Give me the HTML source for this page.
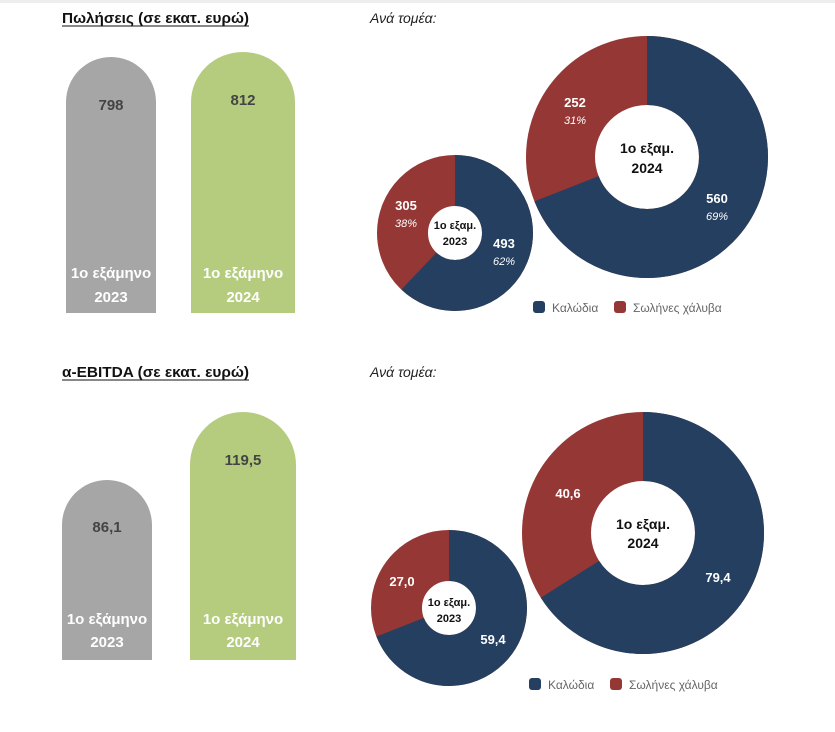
<!DOCTYPE html>
<html><head><meta charset="utf-8"><style>
body{margin:0;background:#fff;width:835px;height:727px;overflow:hidden;font-family:"Liberation Sans","DejaVu Sans",sans-serif}
</style></head><body>
<svg width="835" height="727" xmlns="http://www.w3.org/2000/svg" font-family="Liberation Sans, DejaVu Sans, sans-serif">
<rect x="0" y="0" width="835" height="3" fill="#eee"/>
<text x="62" y="23" font-size="14.5" font-weight="bold" fill="#111" textLength="187" lengthAdjust="spacingAndGlyphs">Πωλήσεις (σε εκατ. ευρώ)</text>
<line x1="62" y1="26" x2="249" y2="26" stroke="#111" stroke-width="1"/>
<text x="370" y="23" font-size="14" font-style="italic" fill="#222">Ανά τομέα:</text>
<text x="62" y="377" font-size="14.5" font-weight="bold" fill="#111" textLength="187" lengthAdjust="spacingAndGlyphs">α-EBITDA (σε εκατ. ευρώ)</text>
<line x1="62" y1="380" x2="249" y2="380" stroke="#111" stroke-width="1"/>
<text x="370" y="377" font-size="14" font-style="italic" fill="#222">Ανά τομέα:</text>

<path d="M66 313 V102 A45 45 0 0 1 156 102 V313 Z" fill="#a6a6a6"/>
<path d="M191 313 V102 A52 50 0 0 1 295 102 V313 Z" fill="#b5cc7f"/>
<text x="111" y="110" font-size="15" font-weight="bold" fill="#444" text-anchor="middle">798</text>
<text x="243" y="105" font-size="15" font-weight="bold" fill="#444" text-anchor="middle">812</text>
<g font-size="15" font-weight="bold" fill="#fff" text-anchor="middle">
<text x="111" y="278">1ο εξάμηνο</text><text x="111" y="302">2023</text>
<text x="243" y="278">1ο εξάμηνο</text><text x="243" y="302">2024</text>
</g>
<path d="M62 660 V525 A45 45 0 0 1 152 525 V660 Z" fill="#a6a6a6"/>
<path d="M190 660 V465 A53 53 0 0 1 296 465 V660 Z" fill="#b5cc7f"/>
<text x="107" y="532" font-size="15" font-weight="bold" fill="#444" text-anchor="middle">86,1</text>
<text x="243" y="465" font-size="15" font-weight="bold" fill="#444" text-anchor="middle">119,5</text>
<g font-size="15" font-weight="bold" fill="#fff" text-anchor="middle">
<text x="107" y="624">1ο εξάμηνο</text><text x="107" y="647">2023</text>
<text x="243" y="624">1ο εξάμηνο</text><text x="243" y="647">2024</text>
</g>

<g transform="translate(455,233) rotate(-90)">
<circle r="52.5" fill="none" stroke="#953735" stroke-width="51"/>
<circle r="52.5" fill="none" stroke="#243f60" stroke-width="51" stroke-dasharray="204.5 400"/>
</g>
<g transform="translate(647,157) rotate(-90)">
<circle r="86.5" fill="none" stroke="#953735" stroke-width="69"/>
<circle r="86.5" fill="none" stroke="#243f60" stroke-width="69" stroke-dasharray="375 600"/>
</g>
<g transform="translate(449,608) rotate(-90)">
<circle r="52.5" fill="none" stroke="#953735" stroke-width="51"/>
<circle r="52.5" fill="none" stroke="#243f60" stroke-width="51" stroke-dasharray="227.5 400"/>
</g>
<g transform="translate(643,533) rotate(-90)">
<circle r="86.5" fill="none" stroke="#953735" stroke-width="69"/>
<circle r="86.5" fill="none" stroke="#243f60" stroke-width="69" stroke-dasharray="358.6 600"/>
</g>

<g font-weight="bold" text-anchor="middle" fill="#111">
<text x="455" y="229" font-size="11">1ο εξαμ.</text><text x="455" y="245" font-size="11">2023</text>
<text x="647" y="153" font-size="14">1ο εξαμ.</text><text x="647" y="173" font-size="14">2024</text>
<text x="449" y="606" font-size="11">1ο εξαμ.</text><text x="449" y="622" font-size="11">2023</text>
<text x="643" y="529" font-size="14">1ο εξαμ.</text><text x="643" y="548" font-size="14">2024</text>
</g>
<g fill="#fff" text-anchor="middle">
<text x="406" y="210" font-size="13" font-weight="bold">305</text>
<text x="406" y="227" font-size="11" font-style="italic">38%</text>
<text x="504" y="248" font-size="13" font-weight="bold">493</text>
<text x="504" y="265" font-size="11" font-style="italic">62%</text>
<text x="575" y="107" font-size="13" font-weight="bold">252</text>
<text x="575" y="124" font-size="11" font-style="italic">31%</text>
<text x="717" y="203" font-size="13" font-weight="bold">560</text>
<text x="717" y="220" font-size="11" font-style="italic">69%</text>
<text x="402" y="586" font-size="13" font-weight="bold">27,0</text>
<text x="493" y="644" font-size="13" font-weight="bold">59,4</text>
<text x="568" y="498" font-size="13" font-weight="bold">40,6</text>
<text x="718" y="582" font-size="13" font-weight="bold">79,4</text>
</g>

<rect x="533" y="301" width="12" height="12" rx="3" fill="#243f60"/>
<text x="552" y="312" font-size="12" fill="#666">Καλώδια</text>
<rect x="614" y="301" width="12" height="12" rx="3" fill="#953735"/>
<text x="633" y="312" font-size="12" fill="#666">Σωλήνες χάλυβα</text>
<rect x="529" y="678" width="12" height="12" rx="3" fill="#243f60"/>
<text x="548" y="689" font-size="12" fill="#666">Καλώδια</text>
<rect x="610" y="678" width="12" height="12" rx="3" fill="#953735"/>
<text x="629" y="689" font-size="12" fill="#666">Σωλήνες χάλυβα</text>
</svg>
</body></html>
